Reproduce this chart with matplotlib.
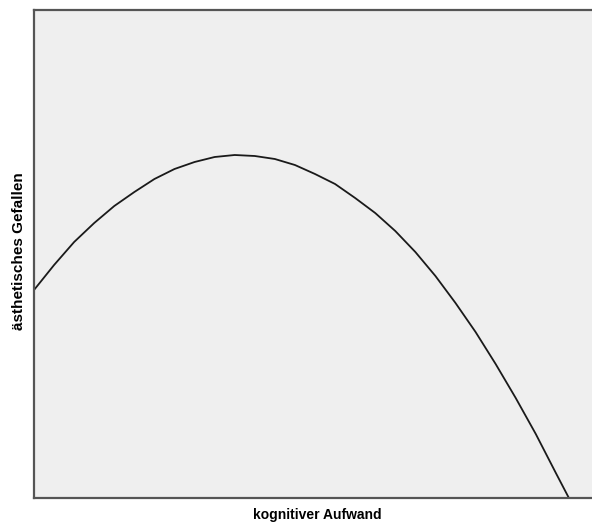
import matplotlib
matplotlib.use("Agg")
import matplotlib.pyplot as plt

# points (x = cognitive effort, y = aesthetic liking)
effort = [0, 20, 40, 60, 80, 100, 120, 140, 160, 180, 200, 220, 240, 260,
          280, 300, 320, 340, 360, 380, 400, 420, 440, 460, 480, 500, 520, 533]
liking = [208, 233, 256, 275, 292, 306, 319, 329, 336, 341, 343, 342, 339,
          333, 324, 314, 300, 285, 267, 246, 222, 195, 166, 134, 100, 64, 25, 0]

x_label = "kognitiver Aufwand"
y_label = "ästhetisches Gefallen"

plt.rcParams['font.family'] = ['Liberation Sans', 'DejaVu Sans']

fig = plt.figure(figsize=(5.92, 5.24), dpi=100)
ax = fig.add_axes([34 / 592, 26 / 524, 562 / 592, 488 / 524])
ax.set_facecolor('#efefef')

ax.plot(effort, liking, color='#1a1a1a', linewidth=1.3)

ax.set_xlim(0, 560)
ax.set_ylim(0, 488)
ax.set_xticks([])
ax.set_yticks([])
for s in ax.spines.values():
    s.set_color('#555555')
    s.set_linewidth(1.6)

fig.text(317 / 592, 1 - 515 / 524, x_label, ha='center', va='center',
         fontsize=10, fontweight='bold')
fig.text(19 / 592, 1 - 251 / 524, y_label, ha='center', va='center',
         rotation=90, fontsize=11, fontweight='bold')

fig.savefig('out.png', dpi=100)
